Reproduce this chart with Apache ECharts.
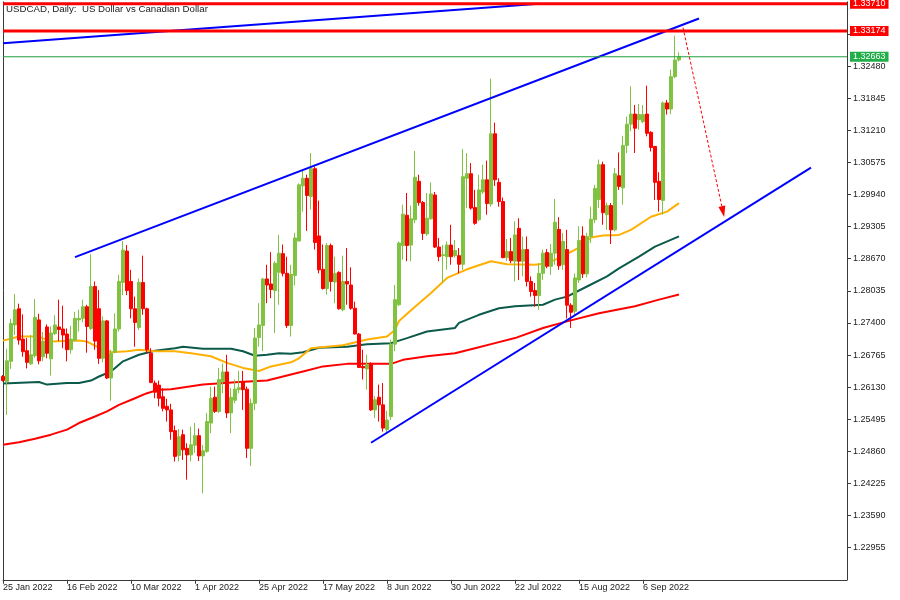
<!DOCTYPE html>
<html><head><meta charset="utf-8">
<script src="https://cdn.jsdelivr.net/npm/echarts@6.0.0/dist/echarts.min.js"></script>
<style>html,body{margin:0;padding:0;background:#fff}#c{width:900px;height:600px}</style>
</head><body><div id="c"></div>
<script>
// ---------------- data ----------------
const title = 'USDCAD, Daily:  US Dollar vs Canadian Dollar';
const firstDate = '2022-01-25';
const categoryCount = 212; // daily bars incl. empty future space
const tickLabels = ['25 Jan 2022','16 Feb 2022','10 Mar 2022','1 Apr 2022','25 Apr 2022','17 May 2022','8 Jun 2022','30 Jun 2022','22 Jul 2022','15 Aug 2022','6 Sep 2022'];
const priceTicks = { first: 1.22955, step: 0.00635 };

const open = [1.2634,1.2624,1.2664,1.2736,1.2768,1.2708,1.2685,1.2659,1.2675,1.2746,1.2673,1.2732,1.2669,1.2719,1.2732,1.2728,1.2718,1.2687,1.2706,1.2746,
1.2749,1.2772,1.2729,1.2812,1.2768,1.2670,1.2744,1.2631,1.2682,1.2728,1.2820,1.2882,1.2822,1.2768,1.2731,1.2820,1.2768,1.2680,1.2621,1.2617,
1.2594,1.2575,1.2568,1.2527,1.2478,1.2519,1.2492,1.2479,1.2498,1.2517,1.2477,1.2486,1.2542,1.2593,1.2565,1.2624,1.2643,1.2562,1.2587,1.2608,
1.2624,1.2609,1.2492,1.2581,1.2711,1.2735,1.2827,1.2817,1.2804,1.2840,1.2877,1.2838,1.2735,1.2834,1.2902,1.3011,1.3026,1.2990,1.3045,1.2912,
1.2846,1.2808,1.2893,1.2821,1.2840,1.2766,1.2822,1.2815,1.2769,1.2718,1.2654,1.2649,1.2658,1.2568,1.2593,1.2578,1.2529,1.2555,1.2698,1.2776,
1.2893,1.2953,1.2894,1.2944,1.3020,1.2978,1.2916,1.2946,1.2993,1.2890,1.2873,1.2871,1.2894,1.2873,1.2873,1.2856,1.3026,1.3035,1.2968,1.2944,
1.2999,1.3023,1.2975,1.3114,1.3018,1.2980,1.2869,1.2881,1.2862,1.2927,1.2862,1.2885,1.2822,1.2804,1.2794,1.2838,1.2879,1.2852,1.2878,1.2925,
1.2855,1.2885,1.2775,1.2763,1.2825,1.2912,1.2837,1.2911,1.2944,1.2984,1.3053,1.2954,1.2972,1.2924,1.3031,1.3007,1.3091,1.3133,1.3153,1.3142,
1.3138,1.3153,1.3117,1.3089,1.3020,1.2982,1.3175,1.3163,1.3227,1.3260];
const high = [1.2637,1.2689,1.2748,1.2797,1.2778,1.2757,1.2710,1.2716,1.2787,1.2758,1.2722,1.2737,1.2733,1.2755,1.2786,1.2774,1.2729,1.2734,1.2762,1.2766,
1.2786,1.2776,1.2876,1.2822,1.2805,1.2753,1.2746,1.2687,1.2759,1.2835,1.2902,1.2894,1.2845,1.2792,1.2828,1.2873,1.2770,1.2690,1.2626,1.2626,
1.2611,1.2590,1.2580,1.2537,1.2530,1.2529,1.2502,1.2535,1.2542,1.2531,1.2499,1.2562,1.2614,1.2614,1.2651,1.2660,1.2677,1.2611,1.2628,1.2645,
1.2645,1.2614,1.2591,1.2730,1.2779,1.2829,1.2855,1.2880,1.2862,1.2914,1.2895,1.2871,1.2855,1.2918,1.3016,1.3043,1.3033,1.3076,1.3049,1.2982,
1.2895,1.2898,1.2897,1.2871,1.2842,1.2873,1.2888,1.2850,1.2782,1.2720,1.2687,1.2677,1.2662,1.2595,1.2618,1.2621,1.2566,1.2707,1.2815,1.2901,
1.2974,1.2997,1.2972,1.3080,1.3033,1.2981,1.2997,1.3018,1.2999,1.2908,1.2894,1.2901,1.2934,1.2904,1.2888,1.3084,1.3076,1.3056,1.3003,1.3033,
1.3053,1.3061,1.3223,1.3136,1.3026,1.2988,1.2906,1.2908,1.2941,1.2947,1.2911,1.2911,1.2832,1.2819,1.2858,1.2885,1.2886,1.2896,1.2985,1.2949,
1.2918,1.2924,1.2779,1.2838,1.2931,1.2931,1.2918,1.2970,1.3013,1.3063,1.3059,1.2978,1.2977,1.3046,1.3077,1.3110,1.3148,1.3208,1.3171,1.3173,
1.3171,1.3209,1.3119,1.3090,1.3038,1.3178,1.3181,1.3241,1.3308,1.3275];
const low = [1.2624,1.2558,1.2649,1.2716,1.2697,1.2673,1.2650,1.2657,1.2671,1.2658,1.2664,1.2670,1.2636,1.2716,1.2704,1.2690,1.2664,1.2679,1.2703,1.2723,
1.2741,1.2681,1.2726,1.2687,1.2659,1.2662,1.2629,1.2586,1.2680,1.2723,1.2795,1.2795,1.2749,1.2693,1.2726,1.2756,1.2680,1.2621,1.2591,1.2575,
1.2565,1.2545,1.2509,1.2466,1.2466,1.2469,1.2430,1.2466,1.2483,1.2467,1.2403,1.2483,1.2522,1.2562,1.2562,1.2601,1.2552,1.2522,1.2581,1.2601,
1.2568,1.2473,1.2457,1.2568,1.2693,1.2684,1.2779,1.2789,1.2720,1.2776,1.2832,1.2730,1.2713,1.2814,1.2901,1.2960,1.2922,1.2964,1.2885,1.2838,
1.2806,1.2796,1.2802,1.2779,1.2766,1.2763,1.2776,1.2766,1.2717,1.2651,1.2628,1.2608,1.2566,1.2552,1.2545,1.2525,1.2522,1.2548,1.2684,1.2773,
1.2865,1.2862,1.2862,1.2937,1.2972,1.2904,1.2912,1.2944,1.2888,1.2862,1.2819,1.2845,1.2855,1.2869,1.2838,1.2845,1.2967,1.2964,1.2934,1.2941,
1.2995,1.2954,1.2970,1.3011,1.2970,1.2868,1.2862,1.2858,1.2822,1.2825,1.2832,1.2812,1.2792,1.2772,1.2766,1.2825,1.2848,1.2835,1.2855,1.2845,
1.2845,1.2749,1.2730,1.2756,1.2819,1.2829,1.2830,1.2898,1.2937,1.2967,1.2934,1.2924,1.2896,1.2921,1.3003,1.2974,1.3076,1.3119,1.3076,1.3122,
1.3135,1.3109,1.3079,1.2983,1.2960,1.2954,1.3152,1.3153,1.3224,1.3257];
const close = [1.2626,1.2665,1.2739,1.2766,1.2706,1.2683,1.2662,1.2677,1.2751,1.2665,1.2704,1.2680,1.2720,1.2736,1.2727,1.2716,1.2687,1.2708,1.2749,1.2749,
1.2772,1.2733,1.2812,1.2704,1.2670,1.2744,1.2631,1.2680,1.2728,1.2822,1.2884,1.2804,1.2768,1.2741,1.2820,1.2768,1.2687,1.2622,1.2603,1.2591,
1.2571,1.2568,1.2525,1.2476,1.2515,1.2489,1.2479,1.2499,1.2517,1.2477,1.2487,1.2545,1.2591,1.2565,1.2628,1.2643,1.2562,1.2593,1.2609,1.2612,
1.2608,1.2492,1.2581,1.2710,1.2736,1.2827,1.2815,1.2806,1.2858,1.2878,1.2838,1.2735,1.2836,1.2908,1.3013,1.3026,1.2992,1.3045,1.2899,1.2845,
1.2808,1.2893,1.2822,1.2838,1.2768,1.2822,1.2817,1.2769,1.2718,1.2652,1.2651,1.2658,1.2568,1.2588,1.2578,1.2532,1.2548,1.2698,1.2786,1.2898,
1.2955,1.2893,1.2946,1.3028,1.2978,1.2917,1.2947,1.2995,1.2890,1.2871,1.2875,1.2894,1.2871,1.2883,1.2856,1.3029,1.3035,1.2967,1.2937,1.3003,
1.3023,1.2976,1.3114,1.3023,1.2980,1.2869,1.2881,1.2863,1.2914,1.2862,1.2885,1.2822,1.2802,1.2794,1.2838,1.2878,1.2852,1.2878,1.2939,1.2853,
1.2901,1.2775,1.2761,1.2829,1.2903,1.2837,1.2911,1.2945,1.3006,1.3053,1.2958,1.2972,1.2924,1.3035,1.3010,1.3091,1.3133,1.3153,1.3125,1.3152,
1.3152,1.3115,1.3087,1.3018,1.2984,1.3175,1.3163,1.3227,1.3260,1.32663];

// moving averages, read at sampled bars: [bar index, value]
const maOrange = [[0,1.2705],[4,1.2713],[9,1.2713],[12,1.2703],[19,1.2705],[21,1.2703],[24,1.2691],[27,1.2682],[31,1.2684],[34,1.2687],[38,1.2684],[43,1.2684],[47,1.2680],[52,1.2674],[56,1.2661],[60,1.2651],[64,1.2645],[67,1.2654],[72,1.2662],[74,1.2670],[77,1.2690],[85,1.2696],[91,1.2707],[96,1.2713],[98,1.2726],[99,1.2744],[103,1.2772],[107,1.2799],[111,1.2829],[116,1.2846],[122,1.2862],[126,1.2856],[133,1.2855],[136,1.2858],[139,1.2868],[144,1.2889],[147,1.2909],[150,1.2913],[154,1.2914],[157,1.2924],[162,1.2950],[166,1.2960],[169,1.2977]];
const maDarkGreen = [[0,1.2620],[9,1.2623],[11,1.2618],[16,1.2621],[19,1.2621],[22,1.2626],[24,1.2634],[27,1.2644],[30,1.2664],[34,1.2677],[38,1.2685],[43,1.2690],[45,1.2693],[50,1.2689],[57,1.2689],[60,1.2684],[63,1.2675],[66,1.2677],[69,1.2680],[72,1.2679],[75,1.2682],[79,1.2691],[86,1.2693],[91,1.2698],[97,1.2700],[101,1.2710],[106,1.2723],[113,1.2730],[114,1.2740],[119,1.2756],[124,1.2769],[128,1.2773],[135,1.2776],[138,1.2786],[141,1.2792],[146,1.2812],[151,1.2832],[154,1.2848],[159,1.2871],[163,1.2891],[169,1.2911]];
const maRed = [[0,1.2499],[4,1.2504],[8,1.2511],[12,1.2519],[16,1.2529],[19,1.2542],[23,1.2555],[26,1.2565],[29,1.2578],[33,1.2591],[36,1.2601],[39,1.2608],[42,1.2609],[50,1.2618],[59,1.2623],[66,1.2626],[70,1.2634],[75,1.2644],[80,1.2654],[86,1.2659],[97,1.2659],[100,1.2667],[106,1.2674],[113,1.2680],[118,1.2690],[123,1.2700],[128,1.2710],[135,1.2730],[141,1.2743],[149,1.2759],[158,1.2773],[164,1.2786],[169,1.2796]];

// drawn objects: [bar index, price]
const trendTop = [[0,1.3293],[134,1.3371]];
const channelUpper = [[18,1.2870],[174,1.3342]];
const channelLower = [[92,1.2503],[202,1.3047]];
const arrowDown = [[170,1.3324],[180,1.2960]];
const levelLines = [1.33710, 1.33174];
const bidPrice = 1.32663;

// ---------------- chart ----------------
const BASE = priceTicks.first;
const MONTHS = ['Jan','Feb','Mar','Apr','May','Jun','Jul','Aug','Sep','Oct','Nov','Dec'];
const cats = [];
let d = new Date(firstDate + 'T00:00:00Z');
while (cats.length < categoryCount) {
  const wd = d.getUTCDay();
  if (wd !== 0 && wd !== 6) cats.push(d.getUTCDate() + ' ' + MONTHS[d.getUTCMonth()] + ' ' + d.getUTCFullYear());
  d = new Date(d.getTime() + 86400000);
}
const showCat = (idx) => tickLabels.indexOf(cats[idx]) >= 0;
const rel = v => v - BASE;
const FONT = 'Liberation Sans, Arial, sans-serif';
const AX = '#3a3a3a';
const BULL = '#80c342', BEAR = '#ff0000';
const LAST = categoryCount - 1;

const candles = open.map((o, i) => [rel(o), rel(close[i]), rel(low[i]), rel(high[i])]);
const pts = arr => arr.map(([i, v]) => [i, rel(v)]);

const lineSeries = (data, color, width, z) => ({
  type: 'line', data: pts(data), showSymbol: false, symbol: 'none', silent: true,
  lineStyle: { color, width, cap: 'butt' }, z, animation: false, clip: true
});

const levelSeries = (v, color, width, bg) => ({
  type: 'line', data: [[0, rel(v)], [LAST, rel(v)]], showSymbol: false, symbol: 'none', silent: true,
  lineStyle: { color, width }, z: 6, animation: false, clip: false,
  endLabel: { show: true, formatter: v.toFixed(5), color: '#fff', backgroundColor: bg,
    fontFamily: FONT, fontSize: 9, lineHeight: 10, padding: [0, 3, 0, 3], distance: 3 }
});

const chart = echarts.init(document.getElementById('c'), null, { renderer: 'canvas' });
chart.setOption({
  animation: false,
  backgroundColor: '#ffffff',
  title: { text: title, left: 6, top: 4, padding: 0,
    textStyle: { fontFamily: FONT, fontSize: 9.7, fontWeight: 'normal', color: '#222' } },
  grid: { left: 2.3, right: 53, top: 1.8, bottom: 20.2 },
  xAxis: {
    type: 'category', data: cats, boundaryGap: false,
    axisLine: { onZero: false, lineStyle: { color: AX, width: 1 } },
    axisTick: { show: true, inside: false, length: 4, interval: showCat, lineStyle: { color: AX } },
    axisLabel: { interval: showCat, align: 'left', margin: 3, fontFamily: FONT, fontSize: 9, color: '#222' },
    splitLine: { show: false }
  },
  yAxis: [{
    type: 'value', position: 'right', scale: false,
    min: -priceTicks.step, max: 17 * priceTicks.step, interval: priceTicks.step,
    axisLine: { show: true, onZero: false, lineStyle: { color: AX, width: 1 } },
    axisTick: { show: true, inside: false, length: 4, lineStyle: { color: AX } },
    axisLabel: { margin: 6, fontFamily: FONT, fontSize: 9, color: '#222', showMinLabel: false, showMaxLabel: false,
      formatter: v => (v < -1e-6 || v > 0.1045) ? '' : (v + BASE).toFixed(5) },
    splitLine: { show: false }
  }, {
    type: 'value', position: 'left', show: true,
    axisLine: { show: true, onZero: false, lineStyle: { color: AX, width: 1 } },
    axisTick: { show: false }, axisLabel: { show: false }, splitLine: { show: false }
  }],
  series: [
    lineSeries(maRed, '#ff0000', 2, 2),
    lineSeries(maDarkGreen, '#0b5a4a', 2, 2),
    lineSeries(maOrange, '#ffb000', 2, 2),
    {
      type: 'candlestick', data: candles, barWidth: 3, silent: true, z: 3,
      itemStyle: { color: BULL, color0: BEAR, borderColor: BULL, borderColor0: BEAR, borderWidth: 1 },
      markLine: {
        silent: true, animation: false, symbol: ['none', 'triangle'], symbolSize: [7, 11],
        lineStyle: { color: '#ff0000', width: 1, type: [3, 2] },
        label: { show: false },
        data: [[{ coord: [arrowDown[0][0], rel(arrowDown[0][1])] }, { coord: [arrowDown[1][0], rel(arrowDown[1][1])] }]]
      }
    },
    lineSeries(trendTop, '#0000ff', 2, 4),
    lineSeries(channelUpper, '#0000ff', 2, 4),
    lineSeries(channelLower, '#0000ff', 2, 4),
    levelSeries(bidPrice, '#1fa040', 1, '#1fae48'),
    levelSeries(levelLines[1], '#ff0000', 3, '#ff0000'),
    levelSeries(levelLines[0], '#ff0000', 3, '#ff0000')
  ]
});
</script></body></html>
